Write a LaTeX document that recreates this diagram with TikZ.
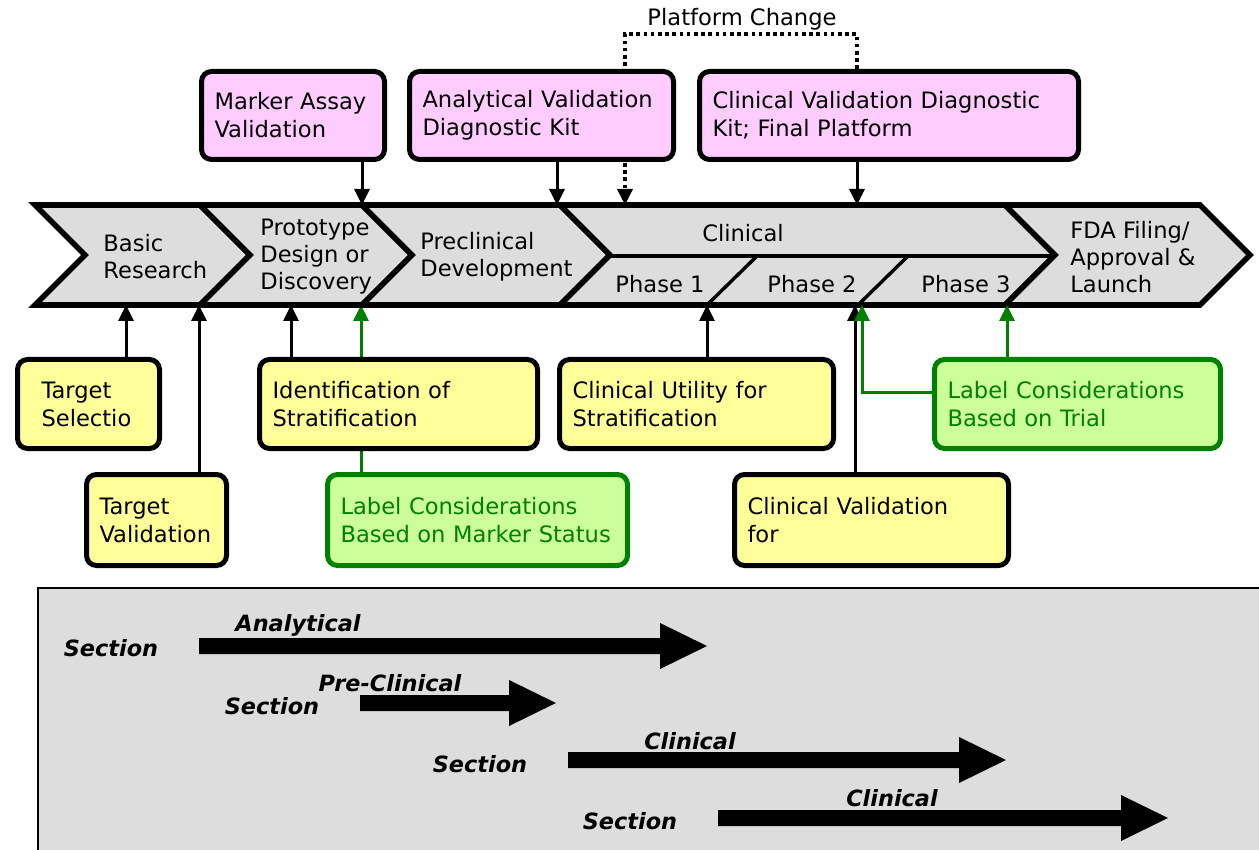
\documentclass[tikz,border=0pt]{standalone}
\usepackage{fontspec}
\setmainfont{DejaVu Sans}
\usetikzlibrary{arrows.meta,backgrounds}

\definecolor{bandgray}{HTML}{DDDDDD}
\definecolor{pinkfill}{HTML}{FFCCFF}
\definecolor{yellowfill}{HTML}{FFFF99}
\definecolor{greenfill}{HTML}{CCFF99}
\definecolor{greenline}{HTML}{008000}

\begin{document}
\begin{tikzpicture}[
  x=0.5pt,
  y=-0.5pt,
  line join=miter,
  font=\fontsize{11.3}{14}\selectfont
]

  \useasboundingbox (0,0) rectangle (1259,850);

  % styles for stages, boxes and arrows
  \tikzset{
    chev/.style={fill=bandgray, draw=black, line width=2.8pt},
    stage/.style={align=left, inner sep=0pt, font=\fontsize{11.3}{13.5}\selectfont},
    box/.style={draw, rounded corners=5pt, line width=2.5pt, anchor=north west,
      align=left, inner xsep=6.5pt, inner ysep=0pt},
    kit/.style={box, fill=pinkfill},
    task/.style={box, fill=yellowfill},
    labelbox/.style={box, fill=greenfill, draw=greenline, text=greenline},
    arr/.style={line width=1.5pt, -{Triangle[length=8pt,width=7.5pt]}},
    garr/.style={arr, greenline},
    dotarr/.style={arr, line width=1.8pt, dash pattern=on 1.8pt off 1.8pt},
    sec/.style={font=\fontsize{11.2}{14}\selectfont\bfseries\itshape, inner sep=0pt}
  }

  % helper macros
  \def\chevron#1#2{%
    \draw[chev] (#1,205) -- (#2,205) -- (#2+50,255) -- (#2,305)
      -- (#1,305) -- (#1+50,255) -- cycle;
  }

  \def\blockarrow#1#2#3{%
    \fill (#1,#3-8) -- (#2-47,#3-8) -- (#2-47,#3-23) -- (#2,#3)
      -- (#2-47,#3+23) -- (#2-47,#3+8) -- (#1,#3+8) -- cycle;
  }

  % stage band
  \foreach \a/\b in {35/200,200/362,362/560,560/1005,1005/1200} {
    \chevron{\a}{\b}
  }

  % clinical phases
  \draw[line width=2.2pt] (610,256) -- (1055,256);
  \draw[line width=1.7pt] (757,256) -- (707,305);
  \draw[line width=1.7pt] (908,256) -- (858,305);

  \node[stage, anchor=west] (basic) at (103,257) {Basic\\Research};
  \node[stage, anchor=west] (proto) at (260,257) {Prototype\\Design or\\Discovery};
  \node[stage, anchor=west] (precl) at (420,257) {Preclinical\\Development};
  \node[stage] (clin) at (743,233) {Clinical};
  \node[stage] (ph1) at (660,284) {Phase 1};
  \node[stage] (ph2) at (812,284) {Phase 2};
  \node[stage] (ph3) at (966,284) {Phase 3};
  \node[stage, anchor=west] (fda) at (1070,257) {FDA Filing/\\Approval \&\\Launch};

  % arrow ends on the band
  \coordinate (p2) at (362,205);
  \coordinate (p3) at (557,205);
  \coordinate (pd) at (625,205);
  \coordinate (p4) at (857,205);
  \coordinate (q1a) at (126,305);
  \coordinate (q1b) at (199,305);
  \coordinate (q2a) at (291,305);
  \coordinate (q2b) at (361,305);
  \coordinate (q5) at (707,305);
  \coordinate (q6) at (855,305);
  \coordinate (q6g) at (862,305);
  \coordinate (q7) at (1007,305);

  % diagnostic kit boxes
  \node[kit, text width=78.5pt, minimum height=44pt] (marker) at (199,69)
    {Marker Assay\\Validation};
  \node[kit, text width=119pt, minimum height=44pt] (anval) at (407,69)
    {Analytical Validation\\Diagnostic Kit};
  \node[kit, text width=176.5pt, minimum height=44pt] (clinval) at (697,69)
    {Clinical Validation Diagnostic\\Kit; Final Platform};

  \node (plat) at (742,19) {Platform Change};

  % task boxes
  \node[task, inner xsep=12pt, text width=47pt, minimum height=44.5pt] (tsel) at (15,357)
    {Target\\Selectio};
  \node[task, text width=57pt, minimum height=45.5pt] (tval) at (84,472)
    {Target\\Validation};
  \node[task, text width=126pt, minimum height=44.5pt] (ident) at (257,357)
    {Identification of\\Stratification};
  \node[task, text width=124pt, minimum height=44.5pt] (cutil) at (557,357)
    {Clinical Utility for\\Stratification};
  \node[task, text width=124pt, minimum height=45.5pt] (cvfor) at (732,472)
    {Clinical Validation\\for};

  % label boxes
  \node[labelbox, text width=137pt, minimum height=45.5pt] (mstat) at (325,472)
    {Label Considerations\\Based on Marker Status};
  \node[labelbox, text width=130pt, minimum height=44.5pt] (trial) at (932,357)
    {Label Considerations\\Based on Trial};

  % arrows into the band
  \draw[arr] (marker.south -| p2) -- (p2);
  \draw[arr] (anval.south -| p3) -- (p3);
  \draw[arr] (clinval.south -| p4) -- (p4);

  \draw[arr] (tsel.north -| q1a) -- (q1a);
  \draw[arr] (tval.north -| q1b) -- (q1b);
  \draw[arr] (ident.north -| q2a) -- (q2a);
  \draw[arr] (cutil.north -| q5) -- (q5);
  \draw[arr] (cvfor.north -| q6) -- (q6);
  \draw[garr] ([yshift=5.5pt]trial.west) -| (q6g);
  \draw[garr] (trial.north -| q7) -- (q7);

  % lines running behind boxes
  \begin{scope}[on background layer]
    \draw[dotarr] (clinval.north -| p4) -- ++(0,-35) -| (pd);
    \draw[garr] (mstat.north -| q2b) -- (q2b);
  \end{scope}

  % sections panel
  \draw[fill=bandgray, line width=1pt] (38,588) rectangle (1280,870);

  \foreach \a/\b/\y in {199/707/646,360/556/703,568/1006/760,718/1168/818} {
    \blockarrow{\a}{\b}{\y}
  }

  \node[sec] (ansec) at (111,648) {Section};
  \node[sec] (antitle) at (298,625) {Analytical};
  \node[sec] (presec) at (272,706) {Section};
  \node[sec] (pretitle) at (390,683) {Pre-Clinical};
  \node[sec] (cisec) at (480,764) {Section};
  \node[sec] (cititle) at (690,741) {Clinical};
  \node[sec] (cjsec) at (630,821) {Section};
  \node[sec] (cjtitle) at (892,798) {Clinical};

\end{tikzpicture}
\end{document}
